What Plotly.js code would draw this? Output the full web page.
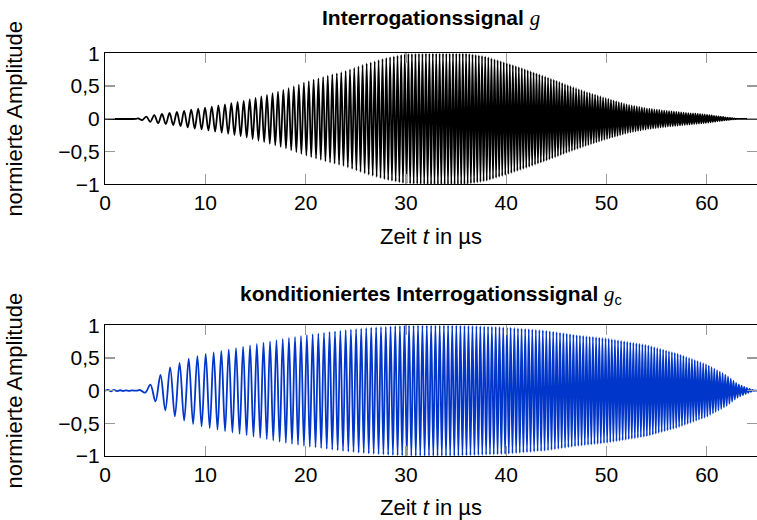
<!DOCTYPE html>
<html><head><meta charset="utf-8">
<script src="https://cdn.plot.ly/plotly-3.0.1.min.js"></script>
<style>html,body{margin:0;padding:0;background:#fff}#chart{width:757px;height:520px}</style>
</head><body><div id="chart"></div>
<script>
// ---- data ----
const xTicks = [0, 10, 20, 30, 40, 50, 60];
const yTicks = [-1, -0.5, 0, 0.5, 1];

// envelope of the interrogation signal g (time in µs, normalised amplitude)
const envTimeTop = [3.1, 4, 5, 6, 7.4, 9, 10, 12, 14, 16, 18, 20, 22, 24, 26, 28, 30, 32, 34, 36, 38, 40, 42, 44, 46, 48, 50, 52, 54, 56, 58, 60, 61, 62, 63];
const envTop     = [0, 0.03, 0.06, 0.08, 0.11, 0.15, 0.17, 0.22, 0.28, 0.36, 0.45, 0.56, 0.65, 0.73, 0.84, 0.93, 0.99, 1, 1, 1, 0.95, 0.855, 0.75, 0.64, 0.52, 0.41, 0.31, 0.22, 0.16, 0.12, 0.09, 0.06, 0.04, 0.02, 0];
// local oscillation frequency of g (MHz), read from the spacing of the peaks
const freqTimeTop = [3, 7, 12, 18, 24, 30, 42, 54, 63];
const freqTop     = [1.2, 1.37, 1.55, 1.9, 2.3, 2.8, 3.4, 4.0, 4.5];

// envelope of the conditioned signal g_c
const envTimeBot = [3.2, 4, 4.6, 5.6, 6.6, 7.5, 8.5, 10, 12, 14, 16, 18, 20, 22, 24, 26, 28, 30, 35, 40, 44, 47, 50, 54, 57, 60, 62, 63, 64, 64.7];
const envBot     = [0, 0.03, 0.1, 0.25, 0.37, 0.43, 0.5, 0.56, 0.62, 0.68, 0.74, 0.8, 0.85, 0.89, 0.93, 0.96, 0.98, 1, 1, 0.97, 0.92, 0.85, 0.8, 0.7, 0.57, 0.4, 0.23, 0.11, 0.04, 0];
const freqTimeBot = [3, 5, 8, 11, 12, 18, 24, 30, 40, 50, 60, 65];
const freqBot     = [0.9, 1.0, 1.1, 1.3, 1.35, 1.62, 1.9, 2.2, 2.7, 3.2, 3.6, 3.8];
// small ripple of g_c before the onset (time in µs, amplitude)
const rippleTime = [0, 0.3, 0.6, 0.9, 1.2, 1.5, 1.8, 2.1, 2.4, 2.7, 3.0];
const rippleVal  = [0, 0.012, -0.01, 0.012, -0.008, 0.006, -0.006, 0.004, -0.004, 0.003, 0];

// ---- build the peak/trough sequence from the read envelope and peak spacing ----
function lookup(xs, ys, x) {
  if (x <= xs[0]) return ys[0];
  if (x >= xs[xs.length - 1]) return ys[ys.length - 1];
  for (let i = 1; i < xs.length; i++) {
    if (x <= xs[i]) {
      const r = (x - xs[i - 1]) / (xs[i] - xs[i - 1]);
      return ys[i - 1] + r * (ys[i] - ys[i - 1]);
    }
  }
}
function extrema(envT, env, fT, f, preX, preY) {
  const tStart = envT[0], tEnd = envT[envT.length - 1];
  const xs = preX ? preX.slice() : [0], ys = preY ? preY.slice() : [0];
  xs.push(tStart); ys.push(0);
  let phase = 0, t = tStart, next = 0.25, k = 0;
  const dt = 0.002;
  while (t < tEnd) {
    phase += lookup(fT, f, t) * dt;
    t += dt;
    if (phase >= next) {
      xs.push(t);
      ys.push((k % 2 === 0 ? 1 : -1) * lookup(envT, env, t));
      k++; next += 0.5;
    }
  }
  xs.push(tEnd, 65); ys.push(0, 0);
  return {x: xs, y: ys};
}
const sigTop = extrema(envTimeTop, envTop, freqTimeTop, freqTop);
const sigBot = extrema(envTimeBot, envBot, freqTimeBot, freqBot, rippleTime, rippleVal);

const FONT = 'Liberation Sans, Arial, sans-serif';
const traces = [
  {x: sigTop.x, y: sigTop.y, xaxis: 'x', yaxis: 'y', mode: 'lines', line: {color: '#000000', width: 1.8, shape: 'spline', smoothing: 1}, hoverinfo: 'skip'},
  {x: sigBot.x, y: sigBot.y, xaxis: 'x2', yaxis: 'y2', mode: 'lines', line: {color: '#0036c9', width: 1.8, shape: 'spline', smoothing: 1}, hoverinfo: 'skip'}
];
function xax(anchor) {
  return {anchor: anchor, domain: [0, 1], range: [0, 65], tickvals: xTicks, ticktext: xTicks.map(String),
    ticks: 'inside', ticklen: 10, tickwidth: 1.3, tickcolor: '#9a9a9a', showline: true, linecolor: '#000', linewidth: 1,
    mirror: 'ticks', showgrid: false, zeroline: false, tickfont: {family: FONT, size: 21, color: '#000'},
    title: {text: 'Zeit <i>t</i> in µs', font: {family: FONT, size: 22, color: '#000'}, standoff: 15}};
}
function yax(anchor, dom) {
  return {anchor: anchor, domain: dom, range: [-1, 1], tickvals: yTicks,
    ticks: 'inside', ticklen: 10, tickwidth: 1.3, tickcolor: '#9a9a9a', showline: true, linecolor: '#000', linewidth: 1,
    mirror: 'ticks', showgrid: false, zeroline: false, tickfont: {family: FONT, size: 21, color: '#000'},
    title: {text: 'normierte Amplitude', font: {family: FONT, size: 22, color: '#000'}, standoff: 29}};
}
const layout = {
  width: 757, height: 520, margin: {l: 105, r: 0, t: 0, b: 0},
  paper_bgcolor: '#fff', plot_bgcolor: '#fff', showlegend: false, separators: ',.',
  xaxis: xax('y'), yaxis: yax('x', [0.6456, 0.8975]),
  xaxis2: xax('y2'), yaxis2: yax('x2', [0.1231, 0.3744]),
  annotations: [
    {xref: 'paper', yref: 'paper', x: 0.5, y: 0.965, xanchor: 'center', yanchor: 'middle', showarrow: false,
     text: '<b>Interrogationssignal</b> <i><span style="font-family:Liberation Serif">g</span></i>', font: {family: FONT, size: 21, color: '#000'}},
    {xref: 'paper', yref: 'paper', x: 0.5, y: 0.433, xanchor: 'center', yanchor: 'middle', showarrow: false,
     text: '<b>konditioniertes Interrogationssignal</b> <i><span style="font-family:Liberation Serif">g</span></i><sub>c</sub>', font: {family: FONT, size: 21, color: '#000'}}
  ]
};
Plotly.newPlot('chart', traces, layout, {displayModeBar: false, staticPlot: true});
</script></body></html>
